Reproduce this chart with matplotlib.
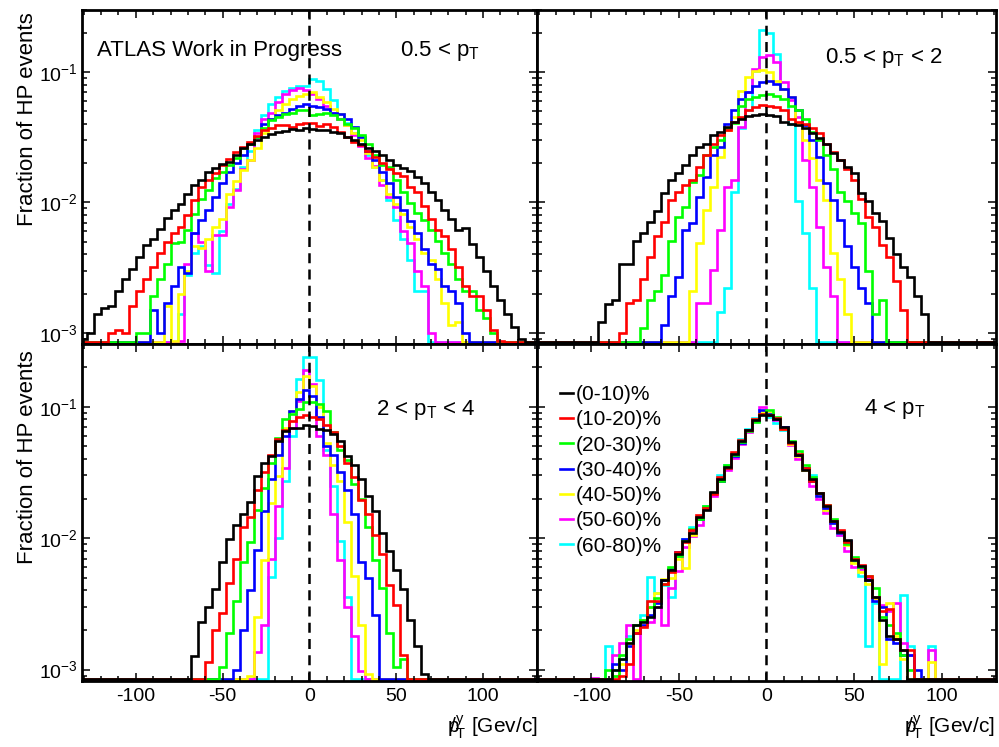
import numpy as np
import matplotlib
matplotlib.use("Agg")
import matplotlib.pyplot as plt
from matplotlib.lines import Line2D
from matplotlib.ticker import MultipleLocator, LogLocator, NullFormatter

plt.rcParams['font.family'] = ['Liberation Sans', 'DejaVu Sans']
plt.rcParams['mathtext.fontset'] = 'custom'
plt.rcParams['mathtext.rm'] = 'Liberation Sans'
plt.rcParams['mathtext.it'] = 'Liberation Sans:italic'
plt.rcParams['mathtext.bf'] = 'Liberation Sans:bold'
plt.rcParams['axes.unicode_minus'] = False

# bin edges of the histograms (4 GeV/c wide)
edges = np.arange(-132, 133, 4)
centrality = ["(0-10)%", "(10-20)%", "(20-30)%", "(30-40)%",
              "(40-50)%", "(50-60)%", "(60-80)%"]
colors = ["black", "#ff0000", "#00ff00", "#0000ff", "#ffff00", "#ff00ff", "#00ffff"]
titles = ["0.5 < $\\mathrm{p_{T}}$", "0.5 < $\\mathrm{p_{T}}$ < 2",
          "2 < $\\mathrm{p_{T}}$ < 4", "4 < $\\mathrm{p_{T}}$"]

# each series: (centre of first filled bin, fractions); 0 = empty bin
# --- 0.5 < pT
a_black = (-130, [9e-4, 1.0e-3, 1.4e-3, 1.55e-3, 1.6e-3, 2.1e-3, 2.6e-3, 3.1e-3, 3.8e-3, 4.7e-3,
                  5.2e-3, 6.3e-3, 7.6e-3, 8.8e-3, 9.8e-3, 0.0116, 0.0137, 0.0150, 0.0170, 0.0183,
                  0.0197, 0.0205, 0.023, 0.026, 0.028, 0.030, 0.032, 0.0338, 0.0348, 0.0355,
                  0.0365, 0.036, 0.037, 0.0365, 0.036, 0.036, 0.035, 0.034, 0.032, 0.030,
                  0.028, 0.026, 0.025, 0.023, 0.021, 0.0195, 0.0184, 0.0174, 0.0158, 0.014,
                  0.0121, 0.0105, 0.0088, 0.0075, 0.0062, 0.0064, 0.0048, 0.0038, 0.003, 0.0023,
                  0.0018, 0.0014, 0.0011, 0.0009])
a_red = (-114, [1.0e-3, 1.05e-3, 1.0e-3, 1.6e-3, 2.1e-3, 2.6e-3, 3.2e-3, 4.1e-3, 5.0e-3, 5.8e-3,
                6.5e-3, 8.0e-3, 0.0105, 0.0132, 0.0149, 0.0168, 0.0194, 0.0214, 0.0245, 0.0267,
                0.029, 0.0326, 0.036, 0.0375, 0.039, 0.0395, 0.038, 0.040, 0.041, 0.041,
                0.0385, 0.040, 0.038, 0.035, 0.032, 0.029, 0.0275, 0.025, 0.0225, 0.020,
                0.018, 0.0168, 0.016, 0.0132, 0.0121, 0.0094, 0.0075, 0.0062, 0.0055, 0.0044,
                0.0032, 0.0023, 0.0019, 0.0019, 0.0015, 1.05e-3, 8.6e-4])
a_green = (-98, [1.0e-3, 1.0e-3, 1.9e-3, 2.6e-3, 3.4e-3, 4.9e-3, 5.0e-3, 6.1e-3, 8.2e-3, 0.0107,
                 0.0124, 0.0153, 0.0172, 0.0194, 0.022, 0.026, 0.028, 0.032, 0.037, 0.043,
                 0.045, 0.048, 0.049, 0.051, 0.051, 0.047, 0.048, 0.049, 0.047, 0.044,
                 0.040, 0.037, 0.033, 0.028, 0.023, 0.0195, 0.0188, 0.0148, 0.0121, 0.0099,
                 0.0083, 0.0074, 0.0062, 0.0051, 0.0041, 0.0034, 0.0026, 0.0021, 0.0021, 0.0015,
                 0.0013, 0.001])
a_blue = (-90, [1.5e-3, 1.0e-3, 1.7e-3, 2.3e-3, 3.2e-3, 2.9e-3, 5.8e-3, 7.3e-3, 8.7e-3, 0.011,
                0.014, 0.017, 0.020, 0.023, 0.028, 0.032, 0.040, 0.044, 0.047, 0.049,
                0.052, 0.055, 0.057, 0.055, 0.054, 0.052, 0.049, 0.048, 0.044, 0.038,
                0.032, 0.025, 0.021, 0.017, 0.014, 0.011, 0.0087, 0.0072, 0.0058, 0.0044,
                0.0034, 0.0031, 0.0023, 0.0021, 0.0017, 1.0e-3])
a_yellow = (-82, [1.6e-3, 8.6e-4, 2.0e-3, 3.0e-3, 4.6e-3, 4.5e-3, 5.2e-3, 6.5e-3, 7.5e-3, 0.0117,
                  0.0145, 0.0176, 0.021, 0.026, 0.034, 0.044, 0.051, 0.057, 0.062, 0.066,
                  0.068, 0.070, 0.064, 0.059, 0.052, 0.048, 0.039, 0.034, 0.030, 0.024,
                  0.0186, 0.0148, 0.0117, 0.0098, 0.0082, 0.0065, 0.0052, 0.0041, 0.0036, 0.0026,
                  0.0017, 0.00115, 0.0012])
a_magenta = (-74, [8.6e-4, 3.4e-3, 5.8e-3, 5.0e-3, 3.0e-3, 5.6e-3, 5.6e-3, 9.3e-3, 0.0125, 0.018,
                   0.021, 0.034, 0.044, 0.049, 0.059, 0.068, 0.073, 0.075, 0.073, 0.068,
                   0.062, 0.055, 0.049, 0.044, 0.039, 0.033, 0.027, 0.022, 0.019, 0.0136,
                   0.011, 0.0093, 0.006, 0.0049, 0.003, 0.0023, 0.001])
a_cyan = (-74, [1.4e-3, 2.8e-3, 4.1e-3, 4.6e-3, 3.3e-3, 2.9e-3, 6.0e-3, 0.0098, 0.0128, 0.0187,
                0.025, 0.036, 0.047, 0.057, 0.064, 0.072, 0.076, 0.079, 0.078, 0.089,
                0.085, 0.074, 0.061, 0.048, 0.041, 0.034, 0.028, 0.023, 0.0187, 0.0148,
                0.0105, 0.0073, 0.0052, 0.0036, 0.0021, 0.0021])

# --- 0.5 < pT < 2
b_black = (-94, [1.2e-3, 1.65e-3, 1.8e-3, 3.4e-3, 3.4e-3, 5.1e-3, 5.8e-3, 7.1e-3, 8.6e-3, 0.0119,
                 0.0148, 0.0167, 0.0193, 0.023, 0.0267, 0.028, 0.033, 0.035, 0.038, 0.0415,
                 0.044, 0.046, 0.047, 0.048, 0.047, 0.046, 0.0415, 0.040, 0.039, 0.037,
                 0.034, 0.031, 0.028, 0.024, 0.021, 0.0187, 0.0167, 0.0118, 0.0102, 0.0083,
                 0.0072, 0.0053, 0.004, 0.0032, 0.0027, 0.0019, 0.0014])
b_red = (-82, [1.0e-3, 1.7e-3, 1.8e-3, 2.6e-3, 3.8e-3, 5.5e-3, 7.1e-3, 0.0104, 0.012, 0.0135,
               0.0148, 0.0187, 0.023, 0.028, 0.033, 0.036, 0.0415, 0.045, 0.051, 0.054,
               0.056, 0.055, 0.054, 0.051, 0.044, 0.0415, 0.040, 0.037, 0.034, 0.028,
               0.0245, 0.021, 0.018, 0.0148, 0.0106, 0.0078, 0.0065, 0.0047, 0.0038, 0.0025,
               0.0015])
b_green = (-70, [1.08e-3, 1.8e-3, 2.1e-3, 2.8e-3, 5.1e-3, 7.7e-3, 9.3e-3, 0.0144, 0.0162, 0.023,
                 0.0267, 0.030, 0.037, 0.041, 0.055, 0.062, 0.065, 0.067, 0.068, 0.066,
                 0.062, 0.055, 0.051, 0.044, 0.035, 0.030, 0.023, 0.018, 0.012, 0.0102,
                 0.0083, 0.0070, 0.0030, 0.0014, 0.0018])
b_blue = (-58, [1.15e-3, 1.9e-3, 2.7e-3, 6.1e-3, 6.9e-3, 0.011, 0.0157, 0.023, 0.0267, 0.040,
                0.051, 0.062, 0.070, 0.079, 0.084, 0.086, 0.081, 0.074, 0.064, 0.051,
                0.039, 0.030, 0.0224, 0.014, 0.0105, 0.0073, 0.0046, 0.0032, 0.0022, 0.0017])
b_yellow = (-42, [2.1e-3, 4.9e-3, 8.7e-3, 0.0132, 0.0224, 0.036, 0.045, 0.072, 0.092, 0.102,
                  0.104, 0.10, 0.086, 0.074, 0.064, 0.041, 0.030, 0.0218, 0.0148, 0.0105,
                  0.0041, 0.0026, 0.0014])
b_magenta = (-38, [1.7e-3, 1.7e-3, 3.05e-3, 6.2e-3, 0.0132, 0.015, 0.038, 0.070, 0.105, 0.13,
                   0.135, 0.12, 0.084, 0.061, 0.045, 0.021, 0.0132, 0.0065, 0.0032, 0.0019])
b_cyan = (-26, [1.45e-3, 2.2e-3, 0.012, 0.037, 0.051, 0.103, 0.21, 0.20, 0.138, 0.074,
                0.040, 0.0102, 0.0058, 0.0022])

# --- 2 < pT < 4
c_black = (-66, [1.27e-3, 2.3e-3, 3.0e-3, 4.1e-3, 6.6e-3, 0.0099, 0.0126, 0.0154, 0.019, 0.0295,
                 0.0374, 0.042, 0.055, 0.065, 0.069, 0.069, 0.072, 0.071, 0.068, 0.067,
                 0.062, 0.055, 0.042, 0.036, 0.028, 0.021, 0.016, 0.011, 0.008, 0.0057,
                 0.0041, 0.0024, 0.0015, 9.3e-4])
c_red = (-58, [1.15e-3, 2.0e-3, 2.7e-3, 4.6e-3, 7.0e-3, 0.0122, 0.0146, 0.0234, 0.032, 0.043,
               0.057, 0.067, 0.078, 0.083, 0.086, 0.083, 0.080, 0.072, 0.064, 0.050,
               0.037, 0.029, 0.0196, 0.0154, 0.0105, 0.0076, 0.0044, 0.0031, 0.0013])
c_green = (-50, [1.05e-3, 1.9e-3, 3.3e-3, 6.6e-3, 9.4e-3, 0.0165, 0.024, 0.037, 0.058, 0.080,
                 0.088, 0.096, 0.108, 0.108, 0.105, 0.093, 0.064, 0.047, 0.039, 0.026,
                 0.020, 0.0122, 0.0068, 0.0042, 1.9e-3, 1.05e-3, 1.2e-3])
c_blue = (-42, [1.0e-3, 2.0e-3, 4.0e-3, 8.1e-3, 0.016, 0.028, 0.043, 0.060, 0.093, 0.114,
                0.135, 0.12, 0.083, 0.050, 0.043, 0.032, 0.0234, 0.0152, 0.0066, 0.0050,
                0.0026])
c_yellow = (-34, [9e-4, 2.5e-3, 6.8e-3, 0.0185, 0.0295, 0.069, 0.093, 0.13, 0.17, 0.145,
                  0.099, 0.053, 0.036, 0.027, 0.0133, 0.0052, 0.0022, 9.3e-4])
c_magenta = (-30, [1.36e-3, 2.2e-3, 7e-3, 0.0175, 0.034, 0.069, 0.11, 0.19, 0.15, 0.06,
                   0.043, 0.0154, 0.0068, 0.003, 0.0018, 9.8e-4])
c_cyan = (-22, [0.0051, 0.010, 0.027, 0.06, 0.163, 0.24, 0.24, 0.16, 0.047, 0.025,
                0.0095, 0.0036])

# --- 4 < pT
d_black = (-86, [1.0e-3, 1.2e-3, 1.6e-3, 2.2e-3, 2.3e-3, 2.5e-3, 3.0e-3, 4.8e-3, 5.7e-3, 7.6e-3,
                 0.0096, 0.011, 0.0146, 0.0165, 0.0223, 0.028, 0.035, 0.044, 0.055, 0.066,
                 0.079, 0.086, 0.086, 0.081, 0.070, 0.054, 0.043, 0.033, 0.028, 0.022,
                 0.0176, 0.0134, 0.0112, 0.0097, 0.0068, 0.0061, 0.0048, 0.0036, 0.0024, 0.0018,
                 0.0017, 0.0014])
d_red = (-82, [9e-4, 1.1e-3, 1.9e-3, 2.1e-3, 3.3e-3, 3.3e-3, 4.5e-3, 5.5e-3, 7.8e-3, 0.0093,
               0.0115, 0.0150, 0.0170, 0.0215, 0.029, 0.034, 0.045, 0.056, 0.067, 0.080,
               0.088, 0.087, 0.082, 0.068, 0.053, 0.044, 0.034, 0.027, 0.022, 0.018,
               0.0135, 0.0115, 0.0093, 0.0070, 0.0062, 0.0052, 0.0036, 0.0028, 0.0029, 0.0017,
               0.0014, 0.0014])
d_green = (-90, [1.0e-3, 9e-4, 1.3e-3, 1.7e-3, 2.2e-3, 2.4e-3, 3.0e-3, 3.5e-3, 4.5e-3, 6.0e-3,
                 7.3e-3, 0.0095, 0.0118, 0.0140, 0.0175, 0.022, 0.027, 0.036, 0.043, 0.054,
                 0.065, 0.076, 0.088, 0.094, 0.083, 0.069, 0.055, 0.046, 0.036, 0.029,
                 0.022, 0.018, 0.0140, 0.0113, 0.0090, 0.0072, 0.0060, 0.0052, 0.0042, 0.0025,
                 0.0022, 0.0019, 1.3e-3, 1.0e-3])
d_blue = (-86, [1.1e-3, 1.0e-3, 1.5e-3, 1.9e-3, 2.2e-3, 2.6e-3, 3.2e-3, 4.8e-3, 5.8e-3, 7.8e-3,
                0.0098, 0.0115, 0.0140, 0.0170, 0.022, 0.027, 0.034, 0.042, 0.053, 0.066,
                0.078, 0.095, 0.088, 0.081, 0.070, 0.054, 0.043, 0.034, 0.027, 0.021,
                0.0170, 0.0130, 0.0110, 0.0095, 0.0070, 0.0060, 0.0048, 0.0033, 0.0030, 0.0017,
                0.0016, 1.3e-3, 1.3e-3, 1.0e-3])
d_yellow = (-86, [9e-4, 1.1e-3, 1.6e-3, 2.0e-3, 2.4e-3, 3.0e-3, 3.8e-3, 4.9e-3, 5.0e-3, 7.0e-3,
                  5.9e-3, 0.0105, 0.0140, 0.0170, 0.022, 0.028, 0.034, 0.043, 0.055, 0.066,
                  0.080, 0.091, 0.090, 0.082, 0.068, 0.052, 0.042, 0.033, 0.027, 0.021,
                  0.0165, 0.0130, 0.0110, 0.0088, 0.0065, 0.0055, 0.0045, 0.0035, 1.1e-3, 0.0032,
                  0.0018, 1.2e-3, 0, 0, 0, 1.15e-3])
d_magenta = (-98, [8.6e-4, 0, 0, 1.3e-3, 1.6e-3, 2.2e-3, 0, 2.4e-3, 2.3e-3, 3.0e-3,
                   2.2e-3, 4.2e-3, 5.6e-3, 8.6e-3, 0.0104, 0.0125, 0.0172, 0.0210, 0.027, 0.033,
                   0.041, 0.052, 0.064, 0.080, 0.100, 0.090, 0.079, 0.070, 0.051, 0.040,
                   0.033, 0.025, 0.020, 0.0155, 0.0120, 0.0105, 0.0080, 0.0060, 0.0058, 0.0050,
                   0.0035, 0.0031, 0.0028, 0.0032, 0.0016, 0.0013, 0, 0, 1.4e-3])
d_cyan = (-90, [1.5e-3, 1.0e-3, 1.2e-3, 1.8e-3, 2.2e-3, 2.6e-3, 5.1e-3, 3.8e-3, 4.4e-3, 3.6e-3,
                7.3e-3, 0.0098, 0.0122, 0.0140, 0.0175, 0.022, 0.030, 0.036, 0.042, 0.057,
                0.068, 0.082, 0.090, 0.084, 0.075, 0.066, 0.054, 0.043, 0.034, 0.030,
                0.022, 0.0165, 0.0130, 0.0105, 0.0090, 0.0066, 0.0052, 0.0015, 0.0032, 0,
                0, 0, 0.0037, 0.0015, 0, 0, 0.0015])

panels = [
    [a_black, a_red, a_green, a_blue, a_yellow, a_magenta, a_cyan],
    [b_black, b_red, b_green, b_blue, b_yellow, b_magenta, b_cyan],
    [c_black, c_red, c_green, c_blue, c_yellow, c_magenta, c_cyan],
    [d_black, d_red, d_green, d_blue, d_yellow, d_magenta, d_cyan],
]

YMIN, YMAX = 8.2e-4, 0.3
FLOOR = 8.5e-4   # empty bins are drawn along the bottom, like ROOT does


def full_hist(series):
    start, vals = series
    h = np.zeros(len(edges) - 1)
    i = (start - (edges[0] + 2)) // 4
    h[i:i + len(vals)] = vals
    return np.where(h > 0, h, FLOOR)


fig = plt.figure(figsize=(9.99, 7.47), dpi=100)

L, M, R = 0.0821, 0.5375, 0.997
B, C, T = 0.0884, 0.5395, 0.9866
rects = [[L, C, M - L, T - C], [M, C, R - M, T - C],
         [L, B, M - L, C - B], [M, B, R - M, C - B]]
title_pos = [(0.70, 0.863), (0.627, 0.842), (0.646, 0.789), (0.712, 0.792)]

axes = []
for k, rect in enumerate(rects):
    ax = fig.add_axes(rect)
    axes.append(ax)
    for series, col in reversed(list(zip(panels[k], colors))):
        ax.stairs(full_hist(series), edges, color=col, lw=1.9, baseline=None)
    ax.axvline(0, color="black", lw=1.8, ls=(0, (4, 2.5)), zorder=3)

    ax.set_yscale("log")
    ax.set_ylim(YMIN, YMAX)
    ax.set_xlim(-131, 131)
    ax.xaxis.set_major_locator(MultipleLocator(50))
    ax.xaxis.set_minor_locator(MultipleLocator(10))
    ax.yaxis.set_major_locator(LogLocator(base=10))
    ax.yaxis.set_minor_locator(LogLocator(base=10, subs=np.arange(2, 10)))
    ax.yaxis.set_minor_formatter(NullFormatter())
    ax.tick_params(which="both", direction="in", top=True, right=True,
                   labelsize=14, width=1.1)
    ax.tick_params(which="major", length=6, pad=5)
    ax.tick_params(which="minor", length=3.5)
    ax.tick_params(axis="y", which="major", pad=3)
    for s in ax.spines.values():
        s.set_linewidth(2.0)
    if k < 2:
        ax.tick_params(labelbottom=False)
    if k % 2 == 1:
        ax.tick_params(labelleft=False)
    tx, ty = title_pos[k]
    ax.text(tx, ty, titles[k], transform=ax.transAxes, fontsize=16)

axes[0].text(0.033, 0.863, "ATLAS Work in Progress", transform=axes[0].transAxes,
             fontsize=16)

handles = [Line2D([], [], color=c, lw=1.9) for c in colors]
axes[3].legend(handles, centrality, loc="upper left", bbox_to_anchor=(0.05, 0.878),
               frameon=False, fontsize=15, handlelength=0.65, handletextpad=0.12,
               labelspacing=0.3, borderpad=0, borderaxespad=0)

for ytop in (0.983, 0.531):
    fig.text(0.028, ytop, "Fraction of HP events", rotation=90, ha="center",
             va="top", fontsize=16)

xlab = "$\\mathrm{p}\\!\\!\\!/_{\\mathrm{T}}^{\\mathrm{y}}$ [Gev/c]"
for xr in (0.538, 0.996):
    fig.text(xr, 0.027, xlab, ha="right", va="center", fontsize=15)

fig.savefig("out.png", dpi=100)
